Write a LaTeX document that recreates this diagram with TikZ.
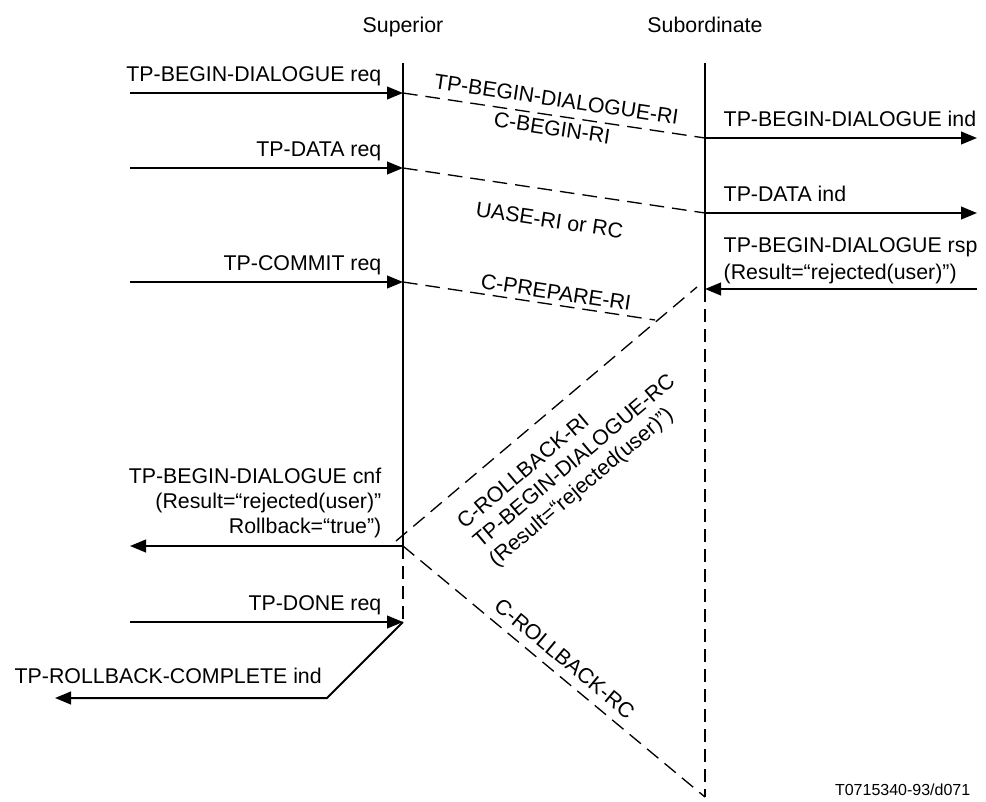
\documentclass[tikz,border=0pt]{standalone}
\usepackage{fontspec}
\setmainfont{Liberation Sans}
\usetikzlibrary{arrows.meta}

\begin{document}
\begin{tikzpicture}[x=0.75pt, y=-0.75pt, >={Triangle[length=12pt,width=9.5pt]},
  font=\fontsize{16}{18.5}\selectfont,
  prim/.style={line width=1.5pt, ->},
  pdu/.style={line width=1pt, dash pattern=on 11pt off 6pt},
  life/.style={line width=1.5pt},
  lifedash/.style={line width=1.5pt, dash pattern=on 10pt off 5pt}]
\useasboundingbox (0,0) rectangle (986,801);
% Lifelines (x positions, in px)
\def\xsup{403}
\def\xsub{705}
\def\xin{130}  % free end of primitives on the left
\def\xout{977} % free end of primitives on the right
% Events on the superior side
\coordinate (supTop) at (\xsup,63);
\coordinate (s1) at (\xsup,93);
\coordinate (s2) at (\xsup,168);
\coordinate (s3) at (\xsup,282);
\coordinate (s4) at (\xsup,546);
\coordinate (s5) at (\xsup,622);
% Events on the subordinate side
\coordinate (subTop) at (\xsub,63);
\coordinate (t1) at (\xsub,138);
\coordinate (t2) at (\xsub,213);
\coordinate (t3) at (\xsub,289);
\coordinate (subBot) at (\xsub,797);
% Headings
\node[anchor=base] (supHead) at (\xsup,32) {Superior};
\node[anchor=base] (subHead) at (\xsub,32) {Subordinate};
% Draw lifelines
\draw[life] (supTop) -- (s4);
\draw[lifedash] (s4) -- (s5);
\draw[life] (subTop) -- (t3);
\draw[lifedash] (t3) -- (subBot);
% Begin dialogue
\coordinate (in1) at (\xin,93);
\coordinate (out1) at (\xout,138);
\draw[prim] (in1) -- (s1);
\node[anchor=base east] (req1) at (386,81) {TP-BEGIN-DIALOGUE req};
\draw[pdu] (s1) -- node[sloped, above=3pt] (pdu1a) {TP-BEGIN-DIALOGUE-RI}
  node[sloped, below] (pdu1b) {C-BEGIN-RI} (t1);
\draw[prim] (t1) -- (out1);
\node[anchor=base west] (ind1) at (719,126) {TP-BEGIN-DIALOGUE ind};
% Data
\coordinate (in2) at (\xin,168);
\coordinate (out2) at (\xout,213);
\draw[prim] (in2) -- (s2);
\node[anchor=base east] (req2) at (386,156) {TP-DATA req};
\draw[pdu] (s2) -- node[sloped, below=13pt] (pdu2) {UASE-RI or RC} (t2);
\draw[prim] (t2) -- (out2);
\node[anchor=base west] (ind2) at (719,201) {TP-DATA ind};
% Commit, crossed by the rejection
\coordinate (in3) at (\xin,282);
\coordinate (prepEnd) at (655,320);
\draw[prim] (in3) -- (s3);
\node[anchor=base east] (req3) at (386,270) {TP-COMMIT req};
\draw[pdu] (s3) -- node[pos=0.6, sloped, above] (pdu3) {C-PREPARE-RI} (prepEnd);
\coordinate (in4) at (\xout,289);
\draw[prim] (in4) -- (t3);
\node[anchor=base west, align=left, font=\fontsize{16}{20}\selectfont] (rsp) at (719,279)
  {TP-BEGIN-DIALOGUE rsp\\(Result=“rejected(user)”)};
% Rollback
\coordinate (rbHigh) at (697,287);
\coordinate (rbLow) at (396,541);
\draw[pdu] (rbLow) -- node[pos=0.15, sloped, anchor=north west, align=left,
  inner xsep=0pt, inner ysep=15pt] (pdu4)
  {C-ROLLBACK-RI\\TP-BEGIN-DIALOGUE-RC\\(Result=“rejected(user)”)} (rbHigh);
\coordinate (out3) at (\xin,546);
\draw[prim] (s4) -- (out3);
\node[anchor=base east, align=right] (cnf) at (386,533)
  {TP-BEGIN-DIALOGUE cnf\\(Result=“rejected(user)”\\Rollback=“true”)};
\draw[pdu] (s4) -- node[pos=0.5, sloped, above=3pt] (pdu5) {C-ROLLBACK-RC} (subBot);
% Done and rollback complete
\coordinate (in5) at (\xin,622);
\coordinate (bend) at (327,698);
\coordinate (out4) at (55,698);
\draw[prim] (in5) -- (s5);
\node[anchor=base east] (req5) at (386,610) {TP-DONE req};
\draw[prim] (s5) -- (bend) -- (out4);
\node[anchor=base west] (ind5) at (10,683) {TP-ROLLBACK-COMPLETE ind};
% Figure reference
\node[anchor=base east, font=\fontsize{12}{14}\selectfont] (figId) at (975,795) {T0715340-93/d071};
\end{tikzpicture}
\end{document}
